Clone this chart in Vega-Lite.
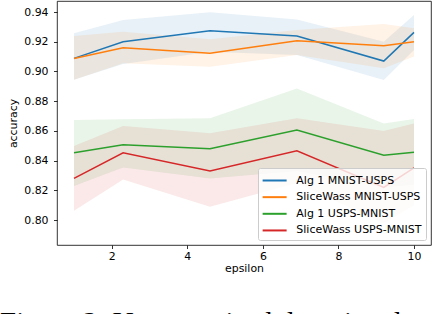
{
  "$schema": "https://vega.github.io/schema/vega-lite/v6.json",
  "width": 374,
  "height": 244,
  "autosize": {"type": "none"},
  "padding": {"left": 57, "top": 1, "right": 1, "bottom": 69},
  "background": "white",
  "config": {
    "font": "DejaVu Sans",
    "view": {"stroke": "#000000", "strokeWidth": 0.8},
    "axis": {
      "grid": false,
      "domain": false,
      "tickColor": "#000000",
      "tickWidth": 0.8,
      "tickSize": 3.5,
      "labelFont": "DejaVu Sans",
      "labelFontSize": 10.9,
      "labelColor": "#000000",
      "titleFont": "DejaVu Sans",
      "titleFontSize": 10.9,
      "titleFontWeight": "normal",
      "titleColor": "#000000"
    },
    "legend": {
      "labelFont": "DejaVu Sans",
      "labelFontSize": 11,
      "labelColor": "#000000",
      "symbolSize": 225,
      "symbolStrokeWidth": 2,
      "symbolOpacity": 1,
      "labelOffset": 17.3,
      "rowPadding": 2.65,
      "padding": 4,
      "fillColor": "rgba(255,255,255,0.8)",
      "strokeColor": "#cccccc",
      "cornerRadius": 2
    }
  },
  "title": {
    "text": "Figure 2: Unsupervised domain adaptation",
    "orient": "bottom",
    "anchor": "start",
    "frame": "group",
    "dx": -57,
    "offset": 35,
    "baseline": "top",
    "font": "Liberation Serif",
    "fontSize": 29,
    "fontWeight": "normal",
    "color": "#000000"
  },
  "data": {
    "values": [
      {"eps": 1, "series": "Alg 1 MNIST-USPS", "mean": 0.9088, "lo": 0.8945, "hi": 0.9257},
      {"eps": 2.3, "series": "Alg 1 MNIST-USPS", "mean": 0.9200, "lo": 0.9050, "hi": 0.9346},
      {"eps": 4.6, "series": "Alg 1 MNIST-USPS", "mean": 0.9274, "lo": 0.9133, "hi": 0.9398},
      {"eps": 6.9, "series": "Alg 1 MNIST-USPS", "mean": 0.9238, "lo": 0.9110, "hi": 0.9350},
      {"eps": 9.2, "series": "Alg 1 MNIST-USPS", "mean": 0.9070, "lo": 0.8942, "hi": 0.9200},
      {"eps": 10, "series": "Alg 1 MNIST-USPS", "mean": 0.9263, "lo": 0.9144, "hi": 0.9380},
      {"eps": 1, "series": "SliceWass MNIST-USPS", "mean": 0.9088, "lo": 0.8945, "hi": 0.9238},
      {"eps": 2.3, "series": "SliceWass MNIST-USPS", "mean": 0.9160, "lo": 0.9055, "hi": 0.9267},
      {"eps": 4.6, "series": "SliceWass MNIST-USPS", "mean": 0.9122, "lo": 0.9032, "hi": 0.9216},
      {"eps": 6.9, "series": "SliceWass MNIST-USPS", "mean": 0.9207, "lo": 0.9110, "hi": 0.9279},
      {"eps": 9.2, "series": "SliceWass MNIST-USPS", "mean": 0.9173, "lo": 0.9021, "hi": 0.9319},
      {"eps": 10, "series": "SliceWass MNIST-USPS", "mean": 0.9200, "lo": 0.9100, "hi": 0.9290},
      {"eps": 1, "series": "Alg 1 USPS-MNIST", "mean": 0.8453, "lo": 0.8229, "hi": 0.8673},
      {"eps": 2.3, "series": "Alg 1 USPS-MNIST", "mean": 0.8507, "lo": 0.8355, "hi": 0.8678},
      {"eps": 4.6, "series": "Alg 1 USPS-MNIST", "mean": 0.8480, "lo": 0.8281, "hi": 0.8685},
      {"eps": 6.9, "series": "Alg 1 USPS-MNIST", "mean": 0.8606, "lo": 0.8330, "hi": 0.8886},
      {"eps": 9.2, "series": "Alg 1 USPS-MNIST", "mean": 0.8436, "lo": 0.8220, "hi": 0.8650},
      {"eps": 10, "series": "Alg 1 USPS-MNIST", "mean": 0.8456, "lo": 0.8240, "hi": 0.8680},
      {"eps": 1, "series": "SliceWass USPS-MNIST", "mean": 0.8281, "lo": 0.8063, "hi": 0.8498},
      {"eps": 2.3, "series": "SliceWass USPS-MNIST", "mean": 0.8453, "lo": 0.8274, "hi": 0.8633},
      {"eps": 4.6, "series": "SliceWass USPS-MNIST", "mean": 0.8330, "lo": 0.8090, "hi": 0.8584},
      {"eps": 6.9, "series": "SliceWass USPS-MNIST", "mean": 0.8467, "lo": 0.8250, "hi": 0.8685},
      {"eps": 9.2, "series": "SliceWass USPS-MNIST", "mean": 0.8220, "lo": 0.7980, "hi": 0.8600},
      {"eps": 10, "series": "SliceWass USPS-MNIST", "mean": 0.8352, "lo": 0.8100, "hi": 0.8650}
    ]
  },
  "encoding": {
    "x": {"field": "eps", "type": "quantitative", "scale": {"domain": [0.55, 10.45], "nice": false, "zero": false},
          "axis": {"title": "epsilon", "values": [2, 4, 6, 8, 10], "labelPadding": 1.5, "titlePadding": 2}},
    "color": {"field": "series", "type": "nominal",
              "scale": {"domain": ["Alg 1 MNIST-USPS", "SliceWass MNIST-USPS", "Alg 1 USPS-MNIST", "SliceWass USPS-MNIST"],
                        "range": ["#1f77b4", "#ff7f0e", "#2ca02c", "#d62728"]},
              "legend": {"title": null, "orient": "none", "legendX": 201, "legendY": 167, "symbolType": "M-1.05,0H2.15"}}
  },
  "layer": [
    {
      "mark": {"type": "area", "opacity": 0.1},
      "encoding": {
        "y": {"field": "lo", "type": "quantitative", "scale": {"domain": [0.7833, 0.9474], "nice": false, "zero": false},
              "axis": {"title": "accuracy", "values": [0.80, 0.82, 0.84, 0.86, 0.88, 0.90, 0.92, 0.94], "format": ".2f", "labelPadding": 5.5, "titlePadding": 5.5}},
        "y2": {"field": "hi"}
      }
    },
    {
      "mark": {"type": "line", "strokeWidth": 1.5},
      "encoding": {
        "y": {"field": "mean", "type": "quantitative", "scale": {"domain": [0.7833, 0.9474], "nice": false, "zero": false},
              "axis": {"title": "accuracy", "values": [0.80, 0.82, 0.84, 0.86, 0.88, 0.90, 0.92, 0.94], "format": ".2f", "labelPadding": 5.5, "titlePadding": 5.5}}
      }
    }
  ]
}
